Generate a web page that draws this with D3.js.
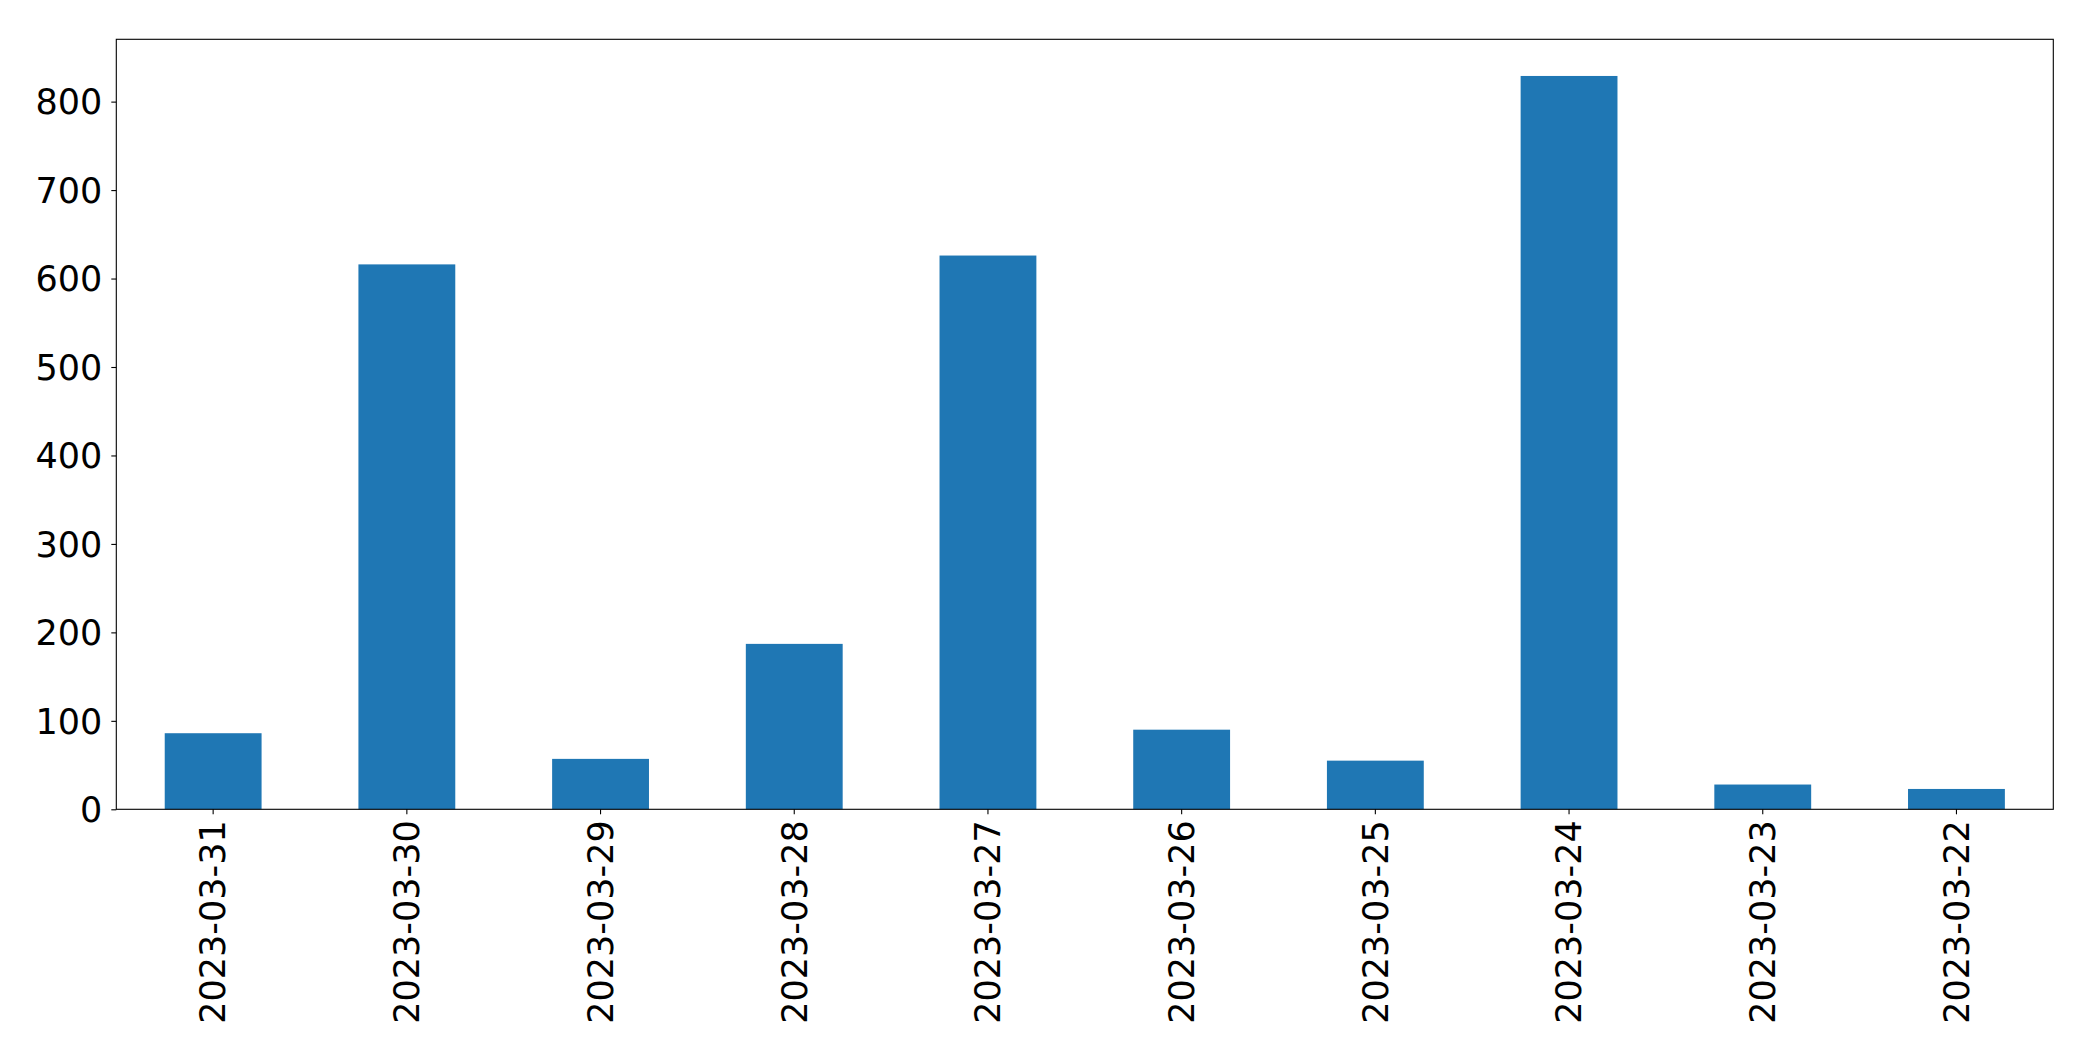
<!DOCTYPE html>
<html>
<head>
<meta charset="utf-8">
<script src="https://cdn.jsdelivr.net/npm/d3@7"></script>
<style>
  html, body { margin: 0; padding: 0; background: #fff; }
  svg { display: block; }
  .tick text { font-family: "DejaVu Sans", sans-serif; fill: #000; }
</style>
</head>
<body>
<svg id="chart" width="2093" height="1061"></svg>
<script>
const categories = ["2023-03-31", "2023-03-30", "2023-03-29", "2023-03-28", "2023-03-27",
                    "2023-03-26", "2023-03-25", "2023-03-24", "2023-03-23", "2023-03-22"];
const values = [86, 616, 57, 187, 626, 90, 55, 829, 28, 23];
const yTicks = [0, 100, 200, 300, 400, 500, 600, 700, 800];

const W = 2093, H = 1061;
const margin = { left: 116.3, top: 39.3, right: W - 2053.3, bottom: H - 809.3 };
const iw = W - margin.left - margin.right;
const ih = H - margin.top - margin.bottom;
const fontSize = 35;
const tickLen = 5;

const svg = d3.select("#chart");
const g = svg.append("g").attr("transform", `translate(${margin.left},${margin.top})`);

const x = d3.scaleBand().domain(categories).range([0, iw]).paddingInner(0.5).paddingOuter(0.25);
const y = d3.scaleLinear().domain([0, d3.max(values) * 1.05]).range([ih, 0]);

g.selectAll("rect.bar").data(values).join("rect")
  .attr("class", "bar")
  .attr("x", (d, i) => x(categories[i]))
  .attr("width", x.bandwidth())
  .attr("y", d => y(d))
  .attr("height", d => y(0) - y(d))
  .attr("fill", "#1f77b4");

// Y axis
const yAxis = g.append("g")
  .call(d3.axisLeft(y).tickValues(yTicks).tickSize(tickLen).tickPadding(9).tickFormat(d3.format("d")));
yAxis.select(".domain").remove();
yAxis.selectAll(".tick line").attr("stroke", "#000").attr("stroke-width", 1.1);
yAxis.selectAll(".tick text").attr("font-size", fontSize).attr("dy", "0.35em");

// X axis
const xAxis = g.append("g").attr("transform", `translate(0,${ih})`)
  .call(d3.axisBottom(x).tickSize(tickLen).tickPadding(0));
xAxis.select(".domain").remove();
xAxis.selectAll(".tick line").attr("stroke", "#000").attr("stroke-width", 1.1);
xAxis.selectAll(".tick text")
  .attr("font-size", fontSize)
  .attr("transform", "rotate(-90)")
  .attr("text-anchor", "end")
  .attr("x", -(tickLen + 6))
  .attr("y", 0)
  .attr("dy", "0.35em");

// Frame
g.append("rect").attr("x", 0).attr("y", 0).attr("width", iw).attr("height", ih)
  .attr("fill", "none").attr("stroke", "#000").attr("stroke-width", 1.1);
</script>
</body>
</html>
